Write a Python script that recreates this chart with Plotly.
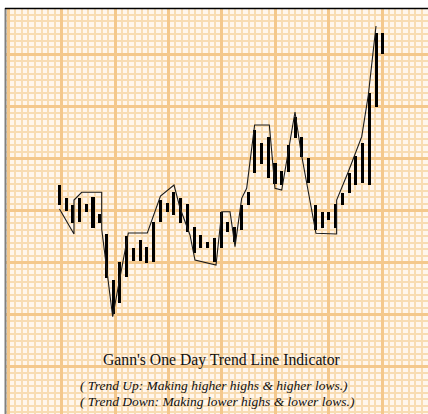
import plotly.graph_objects as go

# ---- data (arbitrary price units) ----
days = list(range(49))
highs = [215, 202, 195, 202, 196, 203, 186.5, 166.5, 120, 138.3,
         164, 151.7, 160, 153.3, 178.3, 200, 196.7, 208.3, 202.5, 196,
         173.3, 165, 158.3, 161.7, 188.3, 178.3, 173.3, 195, 208.3, 270,
         256.7, 263.3, 236.7, 229.5, 255, 283.3, 263.3, 241.7, 195, 188.3,
         188.3, 196, 207.3, 227.3, 243.7, 256.7, 306.7, 366.7, 367.5]
lows = [195, 189, 177, 178, 188, 171.7, 177, 121.7, 86, 96.7,
        123, 139, 139, 136.7, 138.3, 178, 188.3, 185, 177.5, 168,
        146.7, 151.7, 151.7, 138.3, 151.7, 168.3, 158.3, 170, 195, 227.5,
        236, 222.5, 216, 215, 228.3, 261.7, 243.3, 216.7, 170, 171.7,
        180, 171.7, 195, 207, 215, 217.5, 215, 293, 346]

trend_days = [0.03, 2.18, 2.18, 3.32, 6.29, 6.29, 7.92, 10.24, 13.06, 15.01,
              17.02, 17.91, 19.39, 20.13, 23.25, 24.1, 25.33, 26.07, 27.06, 27.8,
              28.98, 31.16, 32.0, 33.0, 34.97, 35.86, 38.08, 41.15, 41.15, 42.88,
              44.87, 45.85, 46.99]
trend_prices = [191, 166, 200, 207.7, 207.7, 171, 83.3, 167, 167, 204,
                215, 192, 165, 140, 135, 188.3, 188.3, 153.3, 201.7, 211.7,
                275, 275, 211.7, 210, 288, 248, 166.7, 166, 200, 228.3,
                263.3, 305, 374]

title_text = "Gann's One Day Trend Line Indicator"
line_up = "( Trend Up: Making higher highs &amp; higher lows.)"
line_down = "( Trend Down: Making lower highs &amp; lower lows.)"

W, H = 428, 414
LEFT, TOP = 6, 8
PX_PER_DAY = 6.74
DAY0_PX = 59.3

fig = go.Figure()
# dummy trace so that the graph-paper axes render
fig.add_trace(go.Scatter(x=[LEFT], y=[H], mode="markers", marker=dict(opacity=0),
                         showlegend=False, hoverinfo="skip", xaxis="x", yaxis="y"))
fig.add_trace(go.Bar(x=days, y=[h - l for h, l in zip(highs, lows)], base=lows,
                     width=0.45, marker=dict(color="#000000", line=dict(width=0)),
                     showlegend=False, hoverinfo="skip", xaxis="x2", yaxis="y2"))
fig.add_trace(go.Scatter(x=trend_days, y=trend_prices, mode="lines",
                         line=dict(color="#1a1a1a", width=1.1),
                         showlegend=False, hoverinfo="skip", xaxis="x2", yaxis="y2"))

dom_x = [LEFT / W, 1]
dom_y = [0, 1 - TOP / H]
minor_col = "#F8DCB2"
major_col = "#F4C88C"

fig.update_layout(
    width=W, height=H, margin=dict(l=0, r=0, t=0, b=0),
    paper_bgcolor="#FFFFFF", plot_bgcolor="#FFF6EC",
    hovermode=False,
    xaxis=dict(domain=dom_x, range=[LEFT, W], showticklabels=False, ticks="",
               zeroline=False, showline=False, tick0=61.7, dtick=53.4,
               showgrid=True, gridcolor=major_col, gridwidth=3,
               minor=dict(tick0=61.7, dtick=53.4 / 8, showgrid=True,
                          gridcolor=minor_col, gridwidth=2)),
    yaxis=dict(domain=dom_y, range=[H, TOP], showticklabels=False, ticks="",
               zeroline=False, showline=False, tick0=54, dtick=52.1,
               showgrid=True, gridcolor=major_col, gridwidth=3,
               minor=dict(tick0=54, dtick=52.1 / 8, showgrid=True,
                          gridcolor=minor_col, gridwidth=2)),
    xaxis2=dict(domain=dom_x, overlaying="x",
                range=[(LEFT - DAY0_PX) / PX_PER_DAY, (W - DAY0_PX) / PX_PER_DAY],
                showgrid=False, showticklabels=False, ticks="", zeroline=False),
    yaxis2=dict(domain=dom_y, overlaying="y", range=[400 - H, 400 - TOP],
                showgrid=False, showticklabels=False, ticks="", zeroline=False),
    bargap=0,
    shapes=[
        dict(type="line", xref="paper", yref="paper", x0=5.5 / W, x1=5.5 / W,
             y0=0, y1=1 - 8 / H, line=dict(color="#808080", width=2)),
        dict(type="line", xref="paper", yref="paper", x0=5 / W, x1=1,
             y0=1 - 8.5 / H, y1=1 - 8.5 / H, line=dict(color="#000000", width=1.5)),
    ],
    annotations=[
        dict(text=title_text, xref="paper", yref="paper", x=222 / W, y=1 - 359.5 / H,
             xanchor="center", yanchor="middle", showarrow=False,
             font=dict(family="Liberation Serif", size=15.7, color="#111111")),
        dict(text="<i>" + line_up + "</i>", xref="paper", yref="paper", x=78 / W,
             y=1 - 385 / H, xanchor="left", yanchor="middle", showarrow=False,
             font=dict(family="Liberation Serif", size=13.5, color="#111111")),
        dict(text="<i>" + line_down + "</i>", xref="paper", yref="paper", x=78 / W,
             y=1 - 401 / H, xanchor="left", yanchor="middle", showarrow=False,
             font=dict(family="Liberation Serif", size=13.5, color="#111111")),
    ],
)

fig.write_html("out.html", config={"displayModeBar": False, "staticPlot": True},
               post_script="document.body.style.margin='0';")
